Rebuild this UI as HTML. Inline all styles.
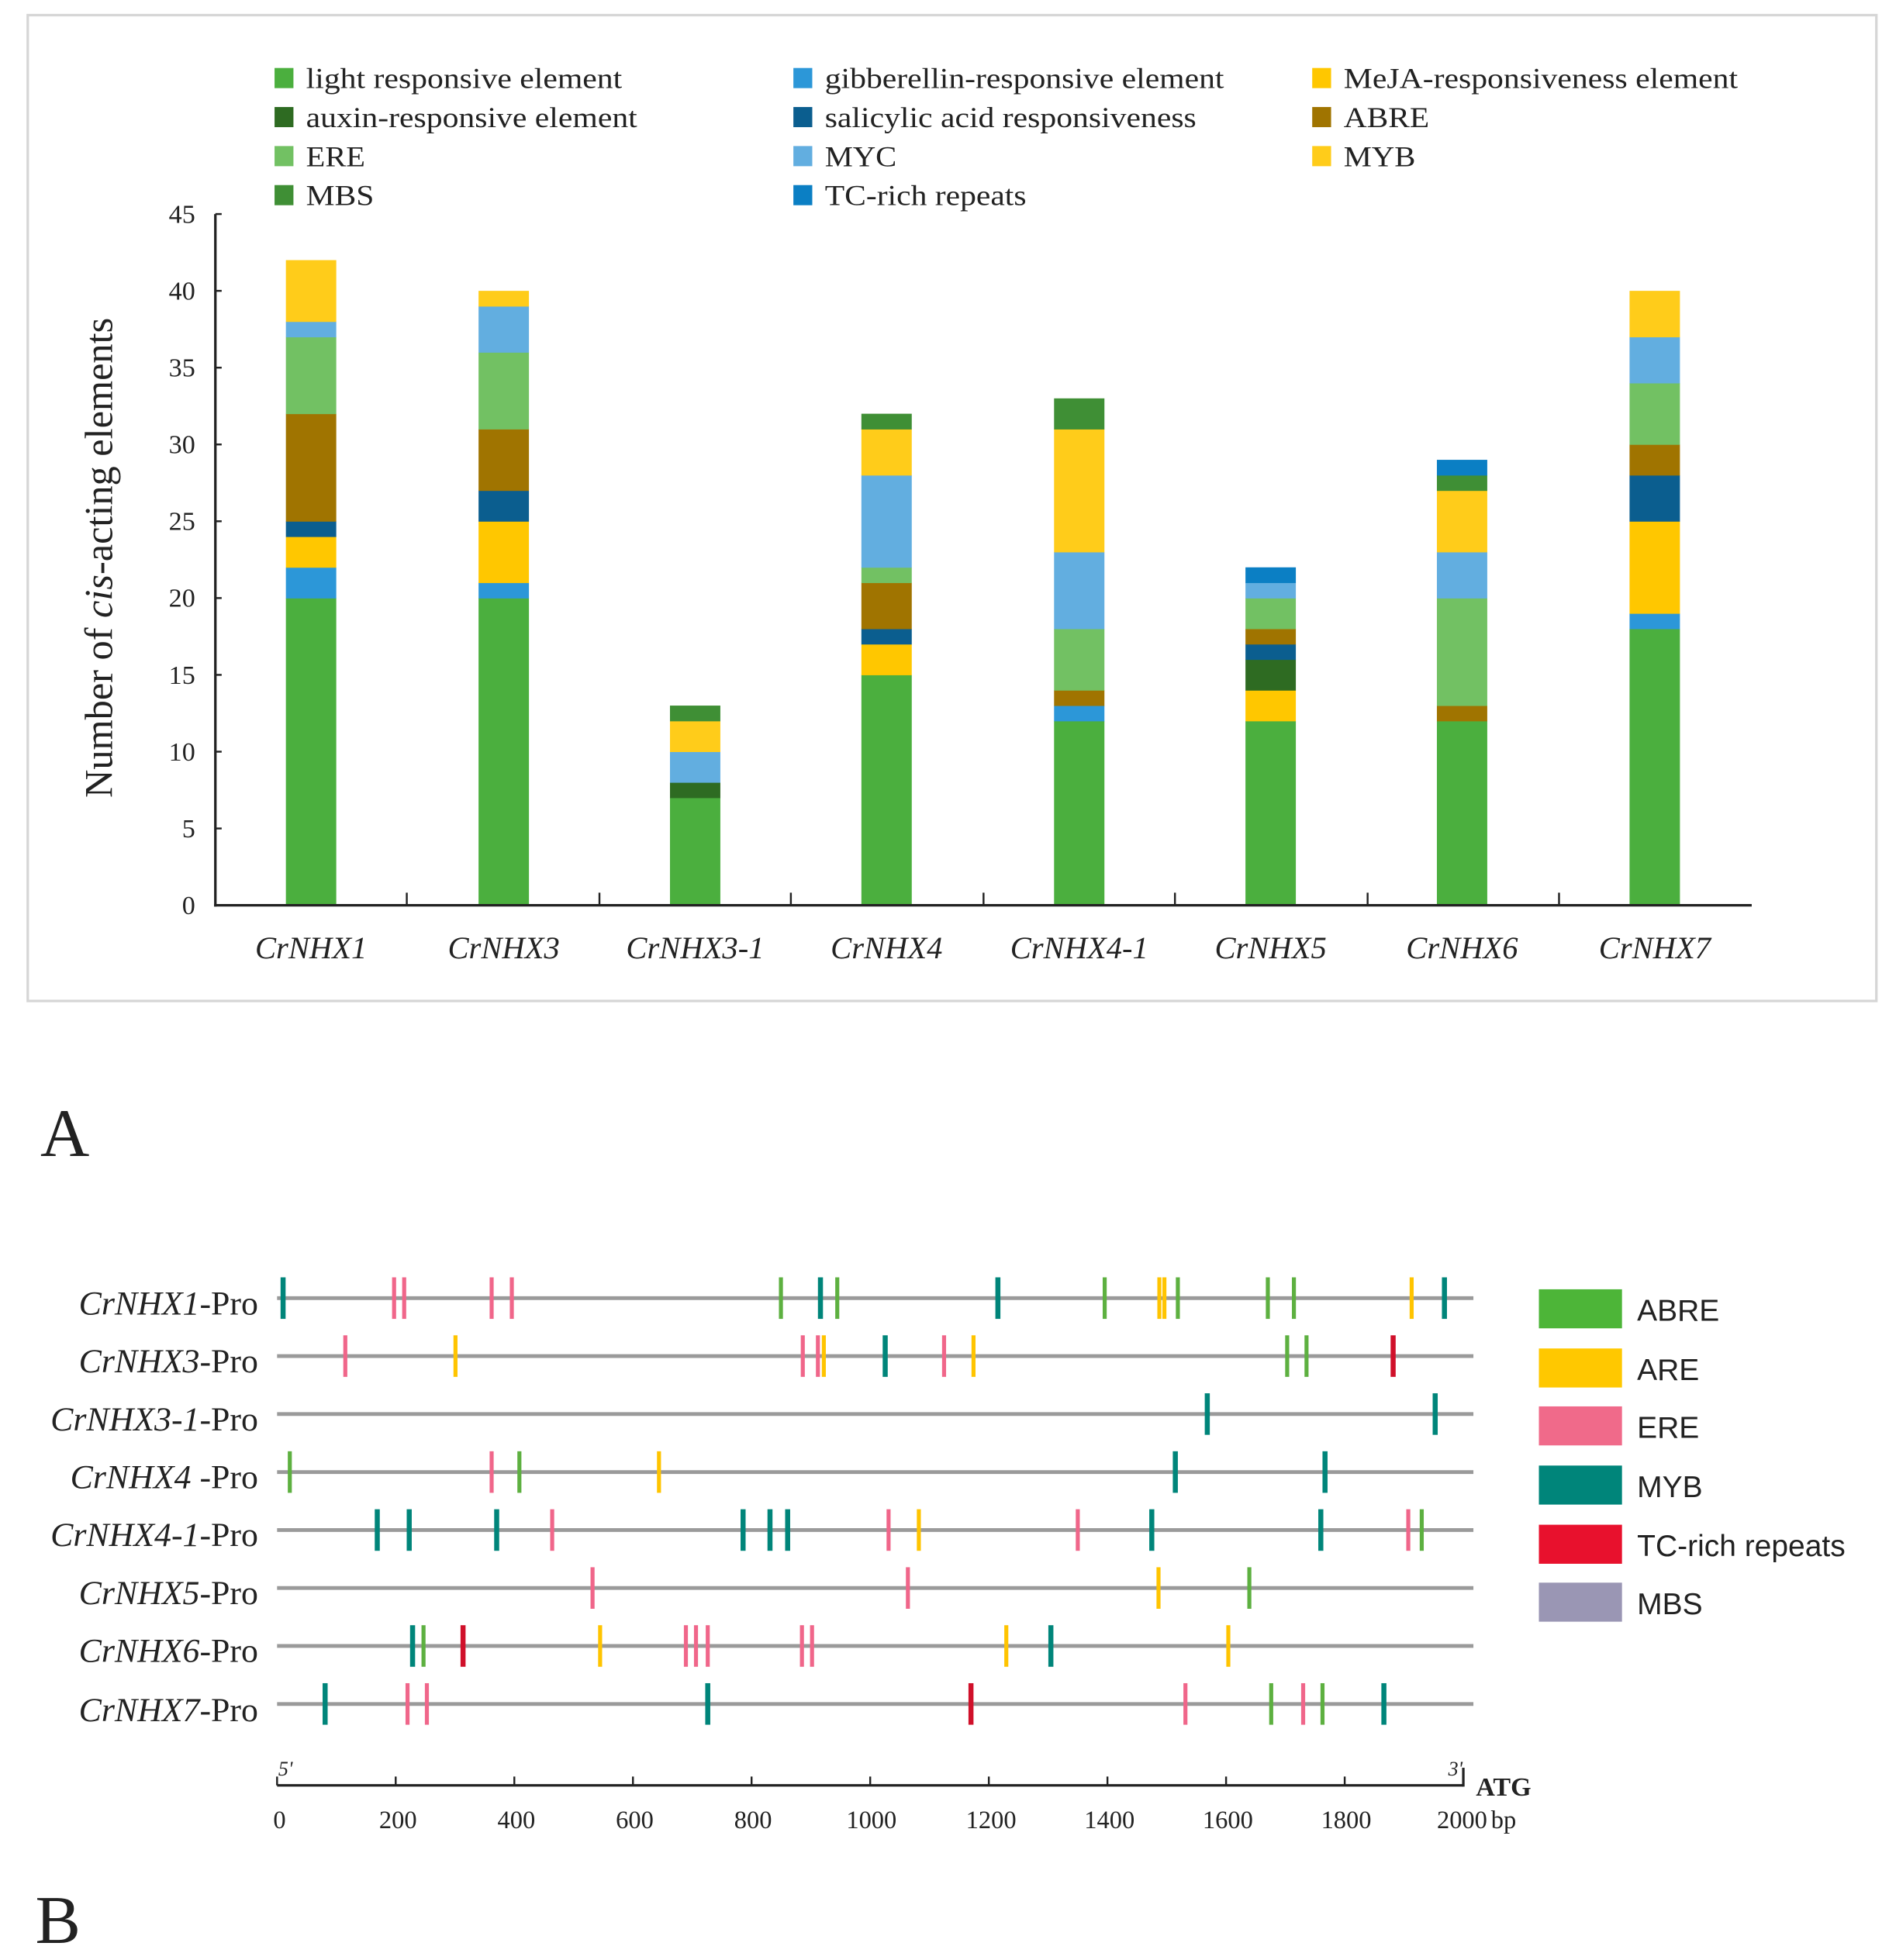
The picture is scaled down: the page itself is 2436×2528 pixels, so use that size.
<!DOCTYPE html>
<html><head><meta charset="utf-8">
<style>
html,body{margin:0;padding:0;background:#fff;}
svg{display:block;}
.s{font-family:"Liberation Serif",serif;fill:#222;}
.a{font-family:"Liberation Sans",sans-serif;fill:#222;}
</style></head>
<body>
<svg id="c" width="2436" height="2528" viewBox="0 0 1500 1556.7" xmlns="http://www.w3.org/2000/svg">
<rect x="0" y="0" width="1500" height="1557" fill="#fff"/>
<rect x="22" y="12" width="1468" height="783" fill="#fff" stroke="#d6d6d6" stroke-width="2"/>
<g id="bars"></g>
<line x1="171" y1="170" x2="171" y2="720" stroke="#222" stroke-width="2"/>
<line x1="170" y1="719" x2="1391" y2="719" stroke="#222" stroke-width="2"/>
<g id="ticksA" stroke="#222" stroke-width="1.5"></g>
<g class="s" font-size="21" text-anchor="end">
<text x="155" y="726">0</text><text x="155" y="665">5</text><text x="155" y="604">10</text><text x="155" y="543">15</text><text x="155" y="482">20</text><text x="155" y="421">25</text><text x="155" y="360">30</text><text x="155" y="299">35</text><text x="155" y="238">40</text><text x="155" y="177">45</text>
</g>
<text class="s" font-size="31" transform="translate(89,443) rotate(-90)" text-anchor="middle">Number of <tspan font-style="italic">cis</tspan>-acting elements</text>
<g class="s" font-size="25" font-style="italic" text-anchor="middle">
<text x="247" y="761">CrNHX1</text><text x="400" y="761">CrNHX3</text><text x="552" y="761">CrNHX3-1</text><text x="704" y="761">CrNHX4</text><text x="857" y="761">CrNHX4-1</text><text x="1009" y="761">CrNHX5</text><text x="1161" y="761">CrNHX6</text><text x="1314" y="761">CrNHX7</text>
</g>
<g>
<rect x="218" y="54" width="15" height="16" fill="#4BAF3E"/>
<rect x="218" y="85" width="15" height="16" fill="#2E6B22"/>
<rect x="218" y="116" width="15" height="16" fill="#72C163"/>
<rect x="218" y="147" width="15" height="16" fill="#3F8F35"/>
<rect x="630" y="54" width="15" height="16" fill="#2C97D8"/>
<rect x="630" y="85" width="15" height="16" fill="#0B5E8F"/>
<rect x="630" y="116" width="15" height="16" fill="#62AEE0"/>
<rect x="630" y="147" width="15" height="16" fill="#0B7FC4"/>
<rect x="1042" y="54" width="15" height="16" fill="#FFC700"/>
<rect x="1042" y="85" width="15" height="16" fill="#A07400"/>
<rect x="1042" y="116" width="15" height="16" fill="#FFCC1A"/>
</g>
<g class="s" font-size="23">
<text x="243" y="70" textLength="251" lengthAdjust="spacingAndGlyphs">light responsive element</text>
<text x="243" y="101" textLength="263" lengthAdjust="spacingAndGlyphs">auxin-responsive element</text>
<text x="243" y="132" textLength="47" lengthAdjust="spacingAndGlyphs">ERE</text>
<text x="243" y="163" textLength="54" lengthAdjust="spacingAndGlyphs">MBS</text>
<text x="655" y="70" textLength="317" lengthAdjust="spacingAndGlyphs">gibberellin-responsive element</text>
<text x="655" y="101" textLength="295" lengthAdjust="spacingAndGlyphs">salicylic acid responsiveness</text>
<text x="655" y="132" textLength="57" lengthAdjust="spacingAndGlyphs">MYC</text>
<text x="655" y="163" textLength="160" lengthAdjust="spacingAndGlyphs">TC-rich repeats</text>
<text x="1067" y="70" textLength="313" lengthAdjust="spacingAndGlyphs">MeJA-responsiveness element</text>
<text x="1067" y="101" textLength="68" lengthAdjust="spacingAndGlyphs">ABRE</text>
<text x="1067" y="132" textLength="57" lengthAdjust="spacingAndGlyphs">MYB</text>
</g>
<text class="s" x="32" y="918" font-size="54">A</text>
<text class="s" x="28" y="1543" font-size="54">B</text>

<g id="rows"></g>
<g class="s" font-size="27" text-anchor="end">
<text x="205" y="1044"><tspan font-style="italic">CrNHX1</tspan>-Pro</text>
<text x="205" y="1090"><tspan font-style="italic">CrNHX3</tspan>-Pro</text>
<text x="205" y="1136"><tspan font-style="italic">CrNHX3-1</tspan>-Pro</text>
<text x="205" y="1182"><tspan font-style="italic">CrNHX4 </tspan>-Pro</text>
<text x="205" y="1228"><tspan font-style="italic">CrNHX4-1</tspan>-Pro</text>
<text x="205" y="1274"><tspan font-style="italic">CrNHX5</tspan>-Pro</text>
<text x="205" y="1320"><tspan font-style="italic">CrNHX6</tspan>-Pro</text>
<text x="205" y="1367"><tspan font-style="italic">CrNHX7</tspan>-Pro</text>
</g>
<line x1="220" y1="1418" x2="1162" y2="1418" stroke="#222" stroke-width="2"/>
<g id="ticksB" stroke="#222" stroke-width="1.5"></g>
<line x1="1162" y1="1404" x2="1162" y2="1419" stroke="#222" stroke-width="2"/>
<text class="s" x="221" y="1410" font-size="16" font-style="italic">5'</text>
<text class="s" x="1150" y="1410" font-size="16" font-style="italic">3'</text>
<text class="s" x="1172" y="1426" font-size="21" font-weight="bold">ATG</text>
<g class="s" font-size="20" text-anchor="middle">
<text x="222" y="1452">0</text><text x="316" y="1452">200</text><text x="410" y="1452">400</text><text x="504" y="1452">600</text><text x="598" y="1452">800</text><text x="692" y="1452">1000</text><text x="787" y="1452">1200</text><text x="881" y="1452">1400</text><text x="975" y="1452">1600</text><text x="1069" y="1452">1800</text><text x="1161" y="1452">2000</text>
</g>
<text class="s" x="1184" y="1452" font-size="20">bp</text>
<rect x="1222" y="1024" width="66" height="31" fill="#4DB538"/>
<rect x="1222" y="1071" width="66" height="31" fill="#FFC800"/>
<rect x="1222" y="1117" width="66" height="31" fill="#F06A8A"/>
<rect x="1222" y="1164" width="66" height="31" fill="#00857A"/>
<rect x="1222" y="1211" width="66" height="31" fill="#E8112D"/>
<rect x="1222" y="1257" width="66" height="31" fill="#9A96B4"/>
<g class="a" font-size="24">
<text x="1300" y="1049">ABRE</text>
<text x="1300" y="1096">ARE</text>
<text x="1300" y="1142">ERE</text>
<text x="1300" y="1189">MYB</text>
<text x="1300" y="1236">TC-rich repeats</text>
<text x="1300" y="1282">MBS</text>
</g>
</svg>
<script>
(function(){
var NS="http://www.w3.org/2000/svg";
function el(p,n,a){var e=document.createElementNS(NS,n);for(var k in a)e.setAttribute(k,a[k]);p.appendChild(e);return e;}
var C={L:"#4BAF3E",AX:"#2E6B22",E:"#72C163",M:"#3F8F35",G:"#2C97D8",S:"#0B5E8F",Y:"#62AEE0",T:"#0B7FC4",J:"#FFC700",A:"#A07400",B:"#FFCC1A"};
var data=[
[247,[["L",20],["G",2],["J",2],["S",1],["A",7],["E",5],["Y",1],["B",4]]],
[400,[["L",20],["G",1],["J",4],["S",2],["A",4],["E",5],["Y",3],["B",1]]],
[552,[["L",7],["AX",1],["Y",2],["B",2],["M",1]]],
[704,[["L",15],["J",2],["S",1],["A",3],["E",1],["Y",6],["B",3],["M",1]]],
[857,[["L",12],["G",1],["A",1],["E",4],["Y",5],["B",8],["M",2]]],
[1009,[["L",12],["J",2],["AX",2],["S",1],["A",1],["E",2],["Y",1],["T",1]]],
[1161,[["L",12],["A",1],["E",7],["Y",3],["B",4],["M",1],["T",1]]],
[1314,[["L",18],["G",1],["J",6],["S",3],["A",2],["E",4],["Y",3],["B",3]]]];
var g=document.getElementById("bars");
data.forEach(function(d){var v=0;d[1].forEach(function(s){var y0=719-12.2*v;v+=s[1];var y1=719-12.2*v;
el(g,"rect",{x:d[0]-20,y:y1,width:40,height:y0-y1+0.3,fill:C[s[0]]});});});
var t=document.getElementById("ticksA");
[323,476,628,781,933,1086,1238].forEach(function(x){el(t,"line",{x1:x,y1:709,x2:x,y2:719});});
for(var i=0;i<=9;i++){var y=719-61*i;el(t,"line",{x1:171,y1:y,x2:176,y2:y});}
var tb=document.getElementById("ticksB");
for(var i=0;i<=10;i++){var x=220+94.2*i;el(tb,"line",{x1:x,y1:1411,x2:x,y2:1418});}
var MC={g:"#5DB040",p:"#F0668A",t:"#00857A",y:"#FFC400",r:"#D0102A"};
var rows=[
[[60,"t"],[192,"p"],[204,"p"],[308,"p"],[332,"p"],[652,"g"],[699,"t"],[719,"g"],[910,"t"],[1037,"g"],[1102,"y"],[1108,"y"],[1124,"g"],[1231,"g"],[1262,"g"],[1402,"y"],[1441,"t"]],
[[134,"p"],[265,"y"],[678,"p"],[696,"p"],[703,"y"],[776,"t"],[846,"p"],[881,"y"],[1254,"g"],[1277,"g"],[1380,"r"]],
[[1159,"t"],[1430,"t"]],
[[68,"g"],[308,"p"],[341,"g"],[507,"y"],[1121,"t"],[1299,"t"]],
[[172,"t"],[210,"t"],[314,"t"],[380,"p"],[607,"t"],[639,"t"],[660,"t"],[780,"p"],[816,"y"],[1005,"p"],[1093,"t"],[1294,"t"],[1398,"p"],[1414,"g"]],
[[428,"p"],[803,"p"],[1101,"y"],[1209,"g"]],
[[214,"t"],[227,"g"],[274,"r"],[437,"y"],[539,"p"],[551,"p"],[565,"p"],[677,"p"],[689,"p"],[920,"y"],[973,"t"],[1184,"y"]],
[[110,"t"],[208,"p"],[231,"p"],[565,"t"],[878,"r"],[1133,"p"],[1235,"g"],[1273,"p"],[1296,"g"],[1369,"t"]]];
var rg=document.getElementById("rows");
rows.forEach(function(r,i){var y=1031+46.05*i;
el(rg,"line",{x1:220,y1:y,x2:1170,y2:y,stroke:"#9a9a9a","stroke-width":3});
r.forEach(function(m){var x=184.7+m[0]*0.6678;var w=(m[1]=="t"||m[1]=="r")?4:3.2;
el(rg,"rect",{x:x-w/2,y:y-16.5,width:w,height:33,fill:MC[m[1]]});});});
})();
</script>
</body></html>
